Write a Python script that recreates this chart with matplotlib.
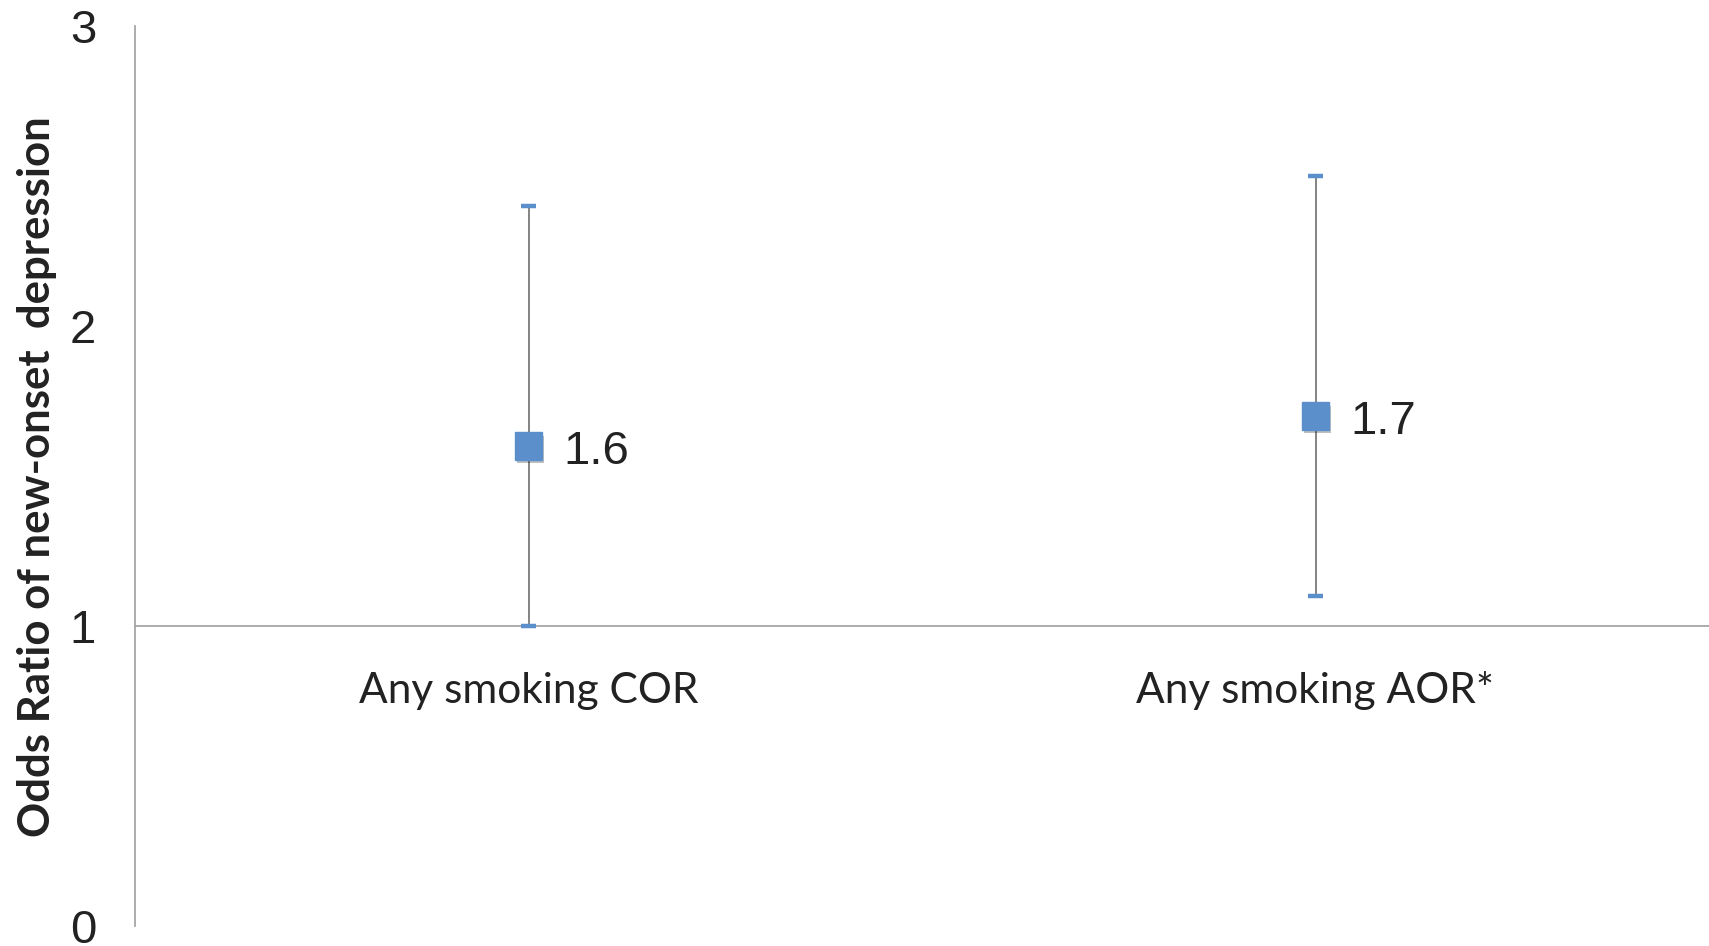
import matplotlib
matplotlib.use("Agg")
import matplotlib.pyplot as plt
import matplotlib.patheffects as pe

categories = ["Any smoking COR", "Any smoking AOR*"]
odds = [1.6, 1.7]
lower = [1.0, 1.1]
upper = [2.4, 2.5]
value_labels = ["1.6", "1.7"]
yticks = [0, 1, 2, 3]

fig = plt.figure(figsize=(17.09, 9.46), dpi=100)
ax = fig.add_axes([135/1709, 1-926/946, 1-135/1709, (926-26)/946])

x = list(range(len(categories)))
blue = "#5B8FCB"
gray = "#7a7a7a"
shadow = [pe.SimplePatchShadow(offset=(1.5, -2.5), shadow_rgbFace="#000000", alpha=0.25), pe.Normal()]

yerr = [[o - l for o, l in zip(odds, lower)], [u - o for u, o in zip(upper, odds)]]
ax.errorbar(x, odds, yerr=yerr, fmt="none", ecolor=gray, elinewidth=1.3, capsize=0, zorder=2)
caps = ax.plot(x + x, lower + upper, linestyle="none", marker="_", markersize=11,
               markeredgewidth=3.2, color=blue, zorder=3)
for c in caps:
    c.set_path_effects(shadow)
pts = ax.plot(x, odds, linestyle="none", marker="s", markersize=20, color=blue,
              markeredgecolor=blue, zorder=4)
for p in pts:
    p.set_path_effects(shadow)

for xi, yi, lab in zip(x, odds, value_labels):
    ax.annotate(lab, (xi, yi), xytext=(25, -4), textcoords="offset points",
                ha="left", va="center", fontsize=34, family="Liberation Sans", color="#222222")

ax.set_xlim(-0.5, len(categories) - 0.5)
ax.set_ylim(0, 3)
ax.set_yticks(yticks)
ax.set_yticklabels([str(t) for t in yticks], fontsize=34, family="Liberation Sans", color="#222222")
ax.tick_params(axis="y", length=0, pad=28)
ax.tick_params(axis="x", length=0)
ax.set_xticks(x)
ax.set_xticklabels([])
for xi, lab in zip(x, categories):
    ax.text(xi, 1 - 0.215, lab, ha="center", va="center", fontsize=30.5, family="Lato", color="#222222")

for s in ["top", "right"]:
    ax.spines[s].set_visible(False)
ax.spines["bottom"].set_position(("data", 1))
ax.spines["bottom"].set_color("#a6a6a6")
ax.spines["left"].set_color("#a6a6a6")
ax.spines["bottom"].set_linewidth(1.3)
ax.spines["left"].set_linewidth(1.3)

fig.text(37/1709, 1-477/946, "Odds Ratio of new-onset  depression", rotation=90,
         ha="center", va="center", fontsize=31.5, fontweight="bold", family="Lato", color="#222222")

fig.savefig("out.png", dpi=100)
